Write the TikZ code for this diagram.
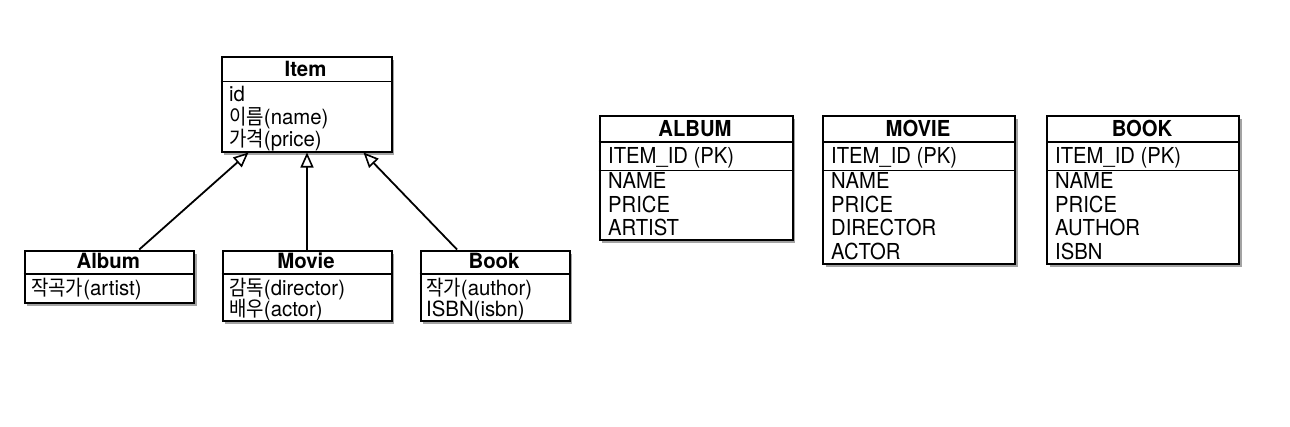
\documentclass[tikz,border=0pt]{standalone}
\usepackage{fontspec}
\setmainfont{TeX Gyre Heros}[FakeStretch=0.97]
\newfontfamily\tbl{TeX Gyre Heros}[FakeStretch=0.92]
\newfontfamily\kr{Noto Sans CJK KR}[FakeStretch=0.9]
\usetikzlibrary{arrows.meta,shadows}
\begin{document}
\begin{tikzpicture}[x=1pt,y=-1pt,
  box/.style={draw, line width=2pt, fill=white, anchor=north west, inner sep=0pt,
    drop shadow={shadow xshift=2.5pt, shadow yshift=-3pt, fill=black!60, opacity=0.6}},
  sep/.style={line width=1.8pt},
  hdr/.style={inner sep=0pt, anchor=base, font=\fontsize{21}{23}\selectfont\bfseries},
  row/.style={inner sep=0pt, anchor=base west, font=\fontsize{21}{23}\selectfont},
  thdr/.style={inner sep=0pt, anchor=base, font=\fontsize{22}{24}\selectfont\tbl\bfseries},
  trow/.style={inner sep=0pt, anchor=base west, font=\fontsize{22}{24}\selectfont\tbl},
  inh/.style={line width=1.8pt, -{Triangle[open, length=15pt, width=13pt, line width=1.6pt]}}
]
\useasboundingbox (0,0) rectangle (1290,426);
\fill[white] (0,0) rectangle (1290,426);

% ---------- class diagram ----------
\node[box, minimum width=170pt, minimum height=95pt] (item) at (220.5,55.5) {};
\draw[sep] (220.5,81.5) -- (390.5,81.5);
\node[hdr] (itemh) at (305.5,76.5) {Item};
\node[row] (item1) at (229,101) {id};
\node[row] (item2) at (229,124) {{\kr 이름}(name)};
\node[row] (item3) at (229,146.5) {{\kr 가격}(price)};

\node[box, minimum width=169.5pt, minimum height=52pt] (album) at (23.5,249.5) {};
\draw[sep] (23.5,274) -- (193,274);
\node[hdr] (albumh) at (108.25,268.3) {Album};
\node[row] (album1) at (31,295.5) {{\kr 작곡가}(artist)};

\node[box, minimum width=169pt, minimum height=70.5pt] (movie) at (221.5,249.5) {};
\draw[sep] (221.5,274) -- (390.5,274);
\node[hdr] (movieh) at (306,268.3) {Movie};
\node[row] (movie1) at (229,295) {{\kr 감독}(director)};
\node[row] (movie2) at (229,316.5) {{\kr 배우}(actor)};

\node[box, minimum width=149pt, minimum height=70.5pt] (book) at (419.5,249.5) {};
\draw[sep] (419.5,274) -- (568.5,274);
\node[hdr] (bookh) at (494,268.3) {Book};
\node[row] (book1) at (426,295) {{\kr 작가}(author)};
\node[row] (book2) at (426,316.5) {ISBN(isbn)};

\draw[inh] ([xshift=30pt]album.north) -- ([xshift=-58pt]item.south);
\draw[inh] (movie.north) -- ([xshift=0.5pt]item.south);
\draw[inh] ([xshift=-38pt]book.north) -- ([xshift=57pt]item.south);

% ---------- tables ----------
\node[box, minimum width=193pt, minimum height=124pt] (talbum) at (598.5,115) {};
\draw[sep] (598.5,142) -- (791.5,142);
\draw[sep] (598.5,170.5) -- (791.5,170.5);
\node[thdr] (talbumh) at (695,136.7) {ALBUM};
\node[trow] (talbum1) at (608,163.5) {ITEM\_ID (PK)};
\node[trow] (talbum2) at (608,188.3) {NAME};
\node[trow] (talbum3) at (608,212.3) {PRICE};
\node[trow] (talbum4) at (608,235.7) {ARTIST};

\node[box, minimum width=192pt, minimum height=148pt] (tmovie) at (822,115) {};
\draw[sep] (822,142) -- (1014,142);
\draw[sep] (822,170.5) -- (1014,170.5);
\node[thdr] (tmovieh) at (918,136.7) {MOVIE};
\node[trow] (tmovie1) at (831,163.5) {ITEM\_ID (PK)};
\node[trow] (tmovie2) at (831,188.3) {NAME};
\node[trow] (tmovie3) at (831,212.3) {PRICE};
\node[trow] (tmovie4) at (831,235.7) {DIRECTOR};
\node[trow] (tmovie5) at (831,259) {ACTOR};

\node[box, minimum width=192pt, minimum height=148pt] (tbook) at (1046,115) {};
\draw[sep] (1046,142) -- (1238,142);
\draw[sep] (1046,170.5) -- (1238,170.5);
\node[thdr] (tbookh) at (1142,136.7) {BOOK};
\node[trow] (tbook1) at (1055,163.5) {ITEM\_ID (PK)};
\node[trow] (tbook2) at (1055,188.3) {NAME};
\node[trow] (tbook3) at (1055,212.3) {PRICE};
\node[trow] (tbook4) at (1055,235.7) {AUTHOR};
\node[trow] (tbook5) at (1055,259) {ISBN};
\end{tikzpicture}
\end{document}
